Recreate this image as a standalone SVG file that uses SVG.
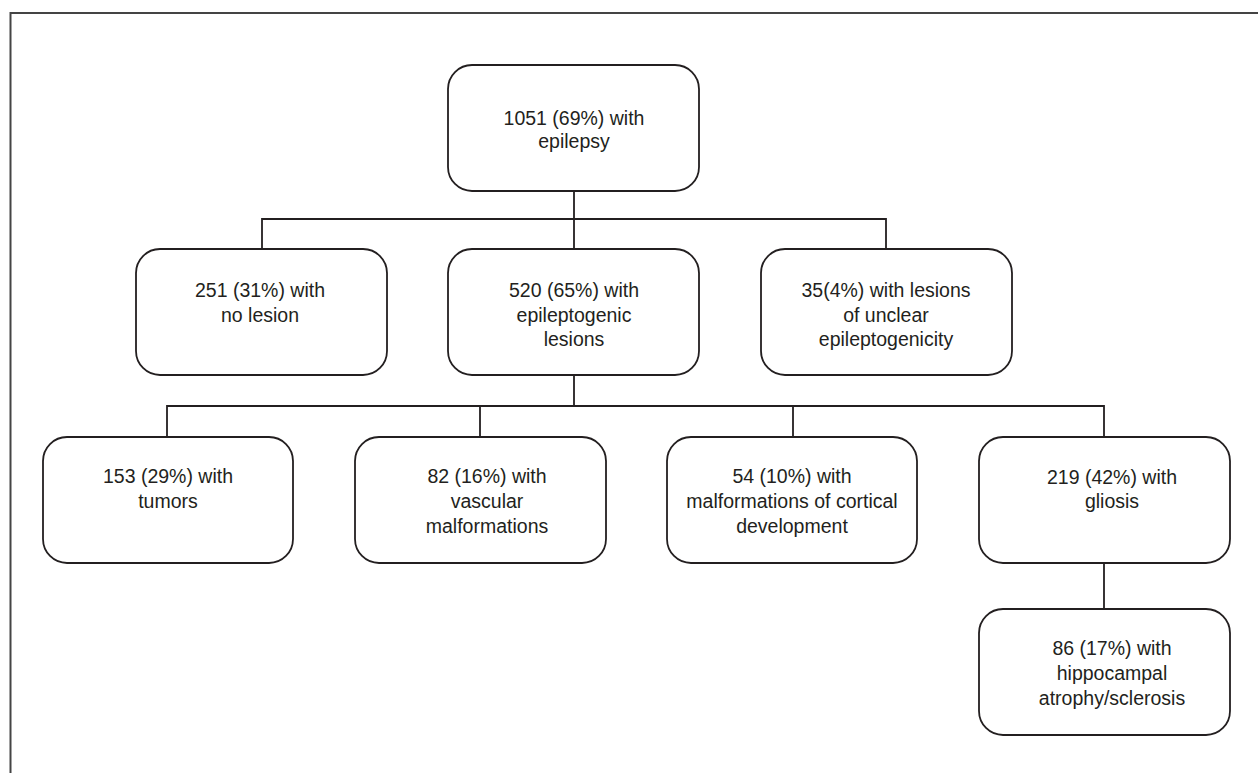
<svg xmlns="http://www.w3.org/2000/svg" width="1258" height="773" viewBox="0 0 1258 773">
<style>
.box{fill:#fff;stroke:#231f20;stroke-width:1.8}
.t{font-family:"Liberation Sans",Arial,sans-serif;font-size:19.5px;fill:#231f20;text-anchor:middle}
.c{fill:none;stroke:#231f20;stroke-width:1.8}
</style>
<rect x="0" y="0" width="1258" height="773" fill="#fff"/>
<path d="M10.5,773 V13 H1258" fill="none" stroke="#444" stroke-width="2"/>
<g id="connectors">
<path class="c" d="M574,191 V249 M262,249 V219 H886 V249"/>
<path class="c" d="M574,375 V406 M167,437 V406 H1104 V437 M480,406 V437 M793,406 V437"/>
<path class="c" d="M1104,563 V609"/>
</g>
<g id="n_root"><rect class="box" x="448" y="65" width="251" height="126" rx="24"/>
<text class="t" x="574" y="125">1051 (69%) with</text><text class="t" x="574" y="148">epilepsy</text></g>
<g id="n_nolesion"><rect class="box" x="136" y="249" width="251" height="126" rx="24"/>
<text class="t" x="260" y="297">251 (31%) with</text><text class="t" x="260" y="322">no lesion</text></g>
<g id="n_epilesions"><rect class="box" x="448" y="249" width="251" height="126" rx="24"/>
<text class="t" x="574" y="297">520 (65%) with</text><text class="t" x="574" y="322">epileptogenic</text><text class="t" x="574" y="346">lesions</text></g>
<g id="n_unclear"><rect class="box" x="761" y="249" width="251" height="126" rx="24"/>
<text class="t" x="886" y="297">35(4%) with lesions</text><text class="t" x="886" y="322">of unclear</text><text class="t" x="886" y="346">epileptogenicity</text></g>
<g id="n_tumors"><rect class="box" x="43" y="437" width="250" height="126" rx="24"/>
<text class="t" x="168" y="483">153 (29%) with</text><text class="t" x="168" y="508">tumors</text></g>
<g id="n_vascular"><rect class="box" x="355" y="437" width="251" height="126" rx="24"/>
<text class="t" x="487" y="483">82 (16%) with</text><text class="t" x="487" y="508">vascular</text><text class="t" x="487" y="533">malformations</text></g>
<g id="n_cortical"><rect class="box" x="667" y="437" width="250" height="126" rx="24"/>
<text class="t" x="792" y="483">54 (10%) with</text><text class="t" x="792" y="508">malformations of cortical</text><text class="t" x="792" y="533">development</text></g>
<g id="n_gliosis"><rect class="box" x="979" y="437" width="251" height="126" rx="24"/>
<text class="t" x="1112" y="484">219 (42%) with</text><text class="t" x="1112" y="508">gliosis</text></g>
<g id="n_hippo"><rect class="box" x="979" y="609" width="251" height="126" rx="24"/>
<text class="t" x="1112" y="655">86 (17%) with</text><text class="t" x="1112" y="680">hippocampal</text><text class="t" x="1112" y="705">atrophy/sclerosis</text></g>
</svg>
